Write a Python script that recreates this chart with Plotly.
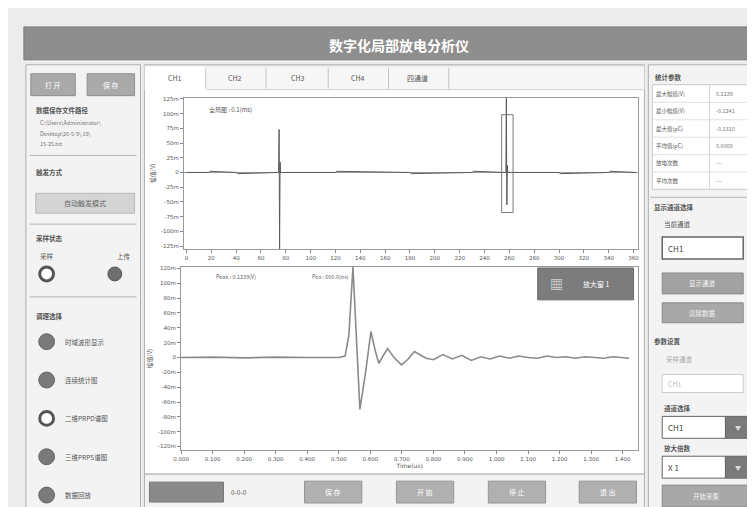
import plotly.graph_objects as go

W, H = 755, 507

# upper trace (全局图): phase 0-360, amplitude in mV
top_t = [0, 18, 19, 40, 41, 74.2, 74.6, 75.0, 75.4, 75.8, 120, 121, 180, 181, 230, 231,
         257.2, 257.6, 258.0, 258.4, 258.8, 300, 301, 340, 341, 362]
top_v = [0, 0, 2, 0, -2, 0, 73, -130, 18, 0, 0, 2, 0, -2, 0, 2,
         0, 126, -55, 12, 0, 0, -2, 0, 2, 0]

# lower trace (zoomed pulse): time in ns, amplitude in mV
wave_t = [0, 100, 200, 300, 400, 500, 520, 532, 545, 556, 567, 585, 602, 615, 627, 640,
          655, 675, 699, 720, 740, 760, 777, 800, 830, 860, 890, 920, 950, 980, 1010,
          1040, 1070, 1100, 1130, 1160, 1190, 1220, 1250, 1280, 1310, 1340, 1370, 1400, 1420]
wave_v = [0, 0.5, -0.5, 0.5, 0, 0, 2, 30, 122, 20, -70, -20, 35, 10, -8, 2,
          12, 0, -10, -2, 8, 3, -1, -3, 4, -2, 3, -4, 1, -2, 2,
          -1, 2, 0, -1, 2, 0, 1, -1, 1, 0, -1, 1, 0, -1]

top_ticks = list(range(0, 361, 20))
top_yticks = [-125, -100, -75, -50, -25, 0, 25, 50, 75, 100, 125]
bot_ticks = list(range(0, 1401, 100))
bot_yticks = [-120, -100, -80, -60, -40, -20, 0, 20, 40, 60, 80, 100, 120]

tabs = ["CH1", "CH2", "CH3", "CH4", "四通道"]
modes = ["时域波形显示", "连续统计图", "二维PRPD谱图", "三维PRPS谱图", "数据回放"]
stat_names = ["最大幅值(V)", "最小幅值(V)", "最大值(pC)", "平均值(pC)", "放电次数", "平均次数"]
stat_vals = ["0.1239", "-0.1241", "-0.1310", "0.0000", "---", "---"]
bottom_btns = ["保 存", "开 始", "停 止", "退 出"]

CJK = "Noto Sans CJK SC"
shapes, annos = [], []


def rect(x0, y0, x1, y1, fill, line=None, lw=1, kind="rect"):
    shapes.append(dict(type=kind, xref="paper", yref="paper",
                       x0=x0 / W, x1=x1 / W, y0=1 - y1 / H, y1=1 - y0 / H,
                       fillcolor=fill, line=dict(color=line or fill, width=lw), layer="below"))


def hline(x0, x1, y, color="#b4b4b4"):
    shapes.append(dict(type="line", xref="paper", yref="paper", x0=x0 / W, x1=x1 / W,
                       y0=1 - y / H, y1=1 - y / H, line=dict(color=color, width=1), layer="below"))


def text(x, y, s, size=7, color="#555555", anchor="left", bold=False):
    if bold:
        s = "<b>" + s + "</b>"
    annos.append(dict(x=x / W, y=1 - y / H, xref="paper", yref="paper", text=s, showarrow=False,
                      xanchor=anchor, yanchor="middle", font=dict(family=CJK, size=size, color=color)))


# background and title bar
rect(0, 0, W, H, "#ececec")
rect(8, 17, 750, 50, "#8e8e8e", "#7a7a7a")
text(388, 35, "数字化局部放电分析仪", 14, "#ffffff", "center", True)

# left panel
rect(10, 55, 126, 502, "#f3f3f3", "#b0b0b0")
rect(15, 64, 60, 86, "#a9a9a9", "#8f8f8f")
rect(72, 64, 120, 86, "#a9a9a9", "#8f8f8f")
text(37, 75, "打 开", 7, "#ffffff", "center")
text(96, 75, "保 存", 7, "#ffffff", "center")
text(18, 100, "数据保存文件路径", 6.5, "#555555", bold=True)
text(22, 113, "C:\\Users\\Administrator\\", 5.5, "#777777")
text(22, 124, "Desktop\\20-5-9\\ 19\\", 5.5, "#777777")
text(22, 135, "15-25.txt", 5.5, "#777777")
hline(14, 122, 146)
text(18, 163, "触发方式", 6.5, "#555555", bold=True)
rect(20, 184, 120, 204, "#d4d4d4", "#b8b8b8")
text(70, 194, "自动触发模式", 7, "#666666", "center")
hline(14, 122, 215)
text(18, 229, "采样状态", 6.5, "#555555", bold=True)
text(22, 247, "采样", 6.5, "#555555")
text(100, 247, "上传", 6.5, "#555555")
rect(24, 258, 38, 272, "#ffffff", "#555555", 3, "circle")
rect(93, 258, 107, 272, "#6f6f6f", "#555555", 1, "circle")
hline(14, 122, 288)
text(18, 307, "调理选择", 6.5, "#555555", bold=True)
for i, m in enumerate(modes):
    cy = 333 + i * 38.5
    if i == 2:
        rect(24, cy - 7, 38, cy + 7, "#ffffff", "#555555", 3, "circle")
    else:
        rect(23, cy - 8, 39, cy + 8, "#7a7a7a", "#666666", 1, "circle")
    text(48, cy, m, 6.5, "#555555")

# main area and tabs
rect(130, 55, 636, 466, "#ffffff", "#b0b0b0")
rect(130, 56, 636, 80, "#f6f6f6", "#d0d0d0")
rect(131, 57, 192, 81, "#ffffff", "#ffffff")
tab_x = [161, 222, 285, 346, 406]
for x, t in zip(tab_x, tabs):
    text(x, 68, t, 7, "#555555", "center")
for x in [192, 253, 316, 377, 438]:
    shapes.append(dict(type="line", xref="paper", yref="paper", x0=x / W, x1=x / W,
                       y0=1 - 79 / H, y1=1 - 58 / H, line=dict(color="#c4c4c4", width=1), layer="below"))

# bottom bar
rect(130, 466, 636, 502, "#f3f3f3", "#b0b0b0")
rect(135, 474, 210, 494, "#8a8a8a", "#777777")
text(216, 484, "0-0-0", 6.5, "#555555")
for x0, b in zip([292, 385, 478, 570], bottom_btns):
    rect(x0, 473, x0 + 58, 495, "#b0b0b0", "#959595")
    text(x0 + 29, 484, b, 7, "#ffffff", "center")

# right panel
rect(640, 55, 750, 502, "#f3f3f3", "#b0b0b0")
text(645, 67, "统计参数", 6.5, "#555555", bold=True)
rect(644, 75, 746, 180, "#ffffff", "#c8c8c8")
for i, (n, v) in enumerate(zip(stat_names, stat_vals)):
    cy = 84 + i * 17.5
    text(646, cy, n, 5.5, "#555555")
    text(706, cy, v, 5.5, "#777777")
    if i < 5:
        hline(644, 746, cy + 8.7, "#e0e0e0")
shapes.append(dict(type="line", xref="paper", yref="paper", x0=702 / W, x1=702 / W,
                   y0=1 - 180 / H, y1=1 - 75 / H, line=dict(color="#d4d4d4", width=1), layer="below"))
hline(642, 748, 188)
text(644, 198, "显示通道选择", 6.5, "#555555", bold=True)
text(654, 215, "当前通道", 6.5, "#555555")
rect(654, 228, 736, 250, "#ffffff", "#666666", 1.5)
text(658, 239, "CH1", 8, "#444444")
rect(654, 264, 736, 285, "#a2a2a2", "#8a8a8a")
text(695, 274.5, "显示通道", 6.5, "#f4f4f4", "center")
rect(654, 294, 736, 314, "#a8a8a8", "#8a8a8a")
text(695, 304, "清除数据", 6.5, "#f4f4f4", "center")
text(644, 332, "参数设置", 6.5, "#555555", bold=True)
text(656, 350, "采样通道", 6.5, "#aaaaaa")
rect(654, 366, 736, 384, "#ffffff", "#cccccc")
text(658, 375, "CH1", 7, "#bbbbbb")
text(654, 400, "通道选择", 6.5, "#555555", bold=True)
rect(654, 408, 718, 430, "#ffffff", "#666666")
rect(718, 408, 744, 430, "#7a7a7a", "#666666")
text(658, 419, "CH1", 8, "#444444")
text(731, 419, "▼", 6, "#dddddd", "center")
text(654, 440, "放大倍数", 6.5, "#555555", bold=True)
rect(654, 448, 718, 470, "#ffffff", "#666666")
rect(718, 448, 744, 470, "#7a7a7a", "#666666")
text(658, 459, "X 1", 8, "#444444")
text(731, 459, "▼", 6, "#dddddd", "center")
rect(654, 477, 744, 499, "#a8a8a8", "#8a8a8a")
text(699, 488, "开始采集", 6.5, "#f4f4f4", "center")

# plot labels
text(193, 100, "全局图 : 0.1(ms)", 6, "#555555")
text(200, 268, "Peak : 0.1239(V)", 5.5, "#666666")
text(298, 268, "Pos : 600.0(ns)", 5.5, "#666666")
rect(528, 259, 625, 291, "#7c7c7c", "#6a6a6a")
text(547, 275, "▦", 13, "#e6e6e6", "center")
text(588, 275, "放大窗 1", 7, "#ffffff", "center")

# selection box on second pulse
shapes.append(dict(type="rect", xref="x", yref="y", x0=253.8, x1=263, y0=-68, y1=98,
                   line=dict(color="#777777", width=1), fillcolor="rgba(0,0,0,0)"))

fig = go.Figure()
fig.add_trace(go.Scatter(x=top_t, y=top_v, mode="lines", line=dict(color="#5a5a5a", width=1),
                         xaxis="x", yaxis="y", showlegend=False))
fig.add_trace(go.Scatter(x=wave_t, y=wave_v, mode="lines", line=dict(color="#8a8a8a", width=1.6),
                         xaxis="x2", yaxis="y2", showlegend=False))

axis_font = dict(family="DejaVu Sans", size=5.5, color="#555555")
common = dict(showgrid=False, zeroline=False, showline=True, linecolor="#999999", linewidth=1,
              ticks="outside", ticklen=3, tickcolor="#888888", tickfont=axis_font, mirror=True)

fig.update_layout(
    width=W, height=H, margin=dict(l=0, r=0, t=0, b=0),
    paper_bgcolor="#ececec", plot_bgcolor="#ffffff",
    shapes=shapes, annotations=annos,
    xaxis=dict(domain=[170 / W, 630 / W], anchor="y", range=[-2, 364],
               tickvals=top_ticks, **common),
    yaxis=dict(domain=[1 - 240 / H, 1 - 88 / H], anchor="x", range=[-130, 127],
               tickvals=top_yticks, ticktext=[f"{v}m" if v else "0" for v in top_yticks],
               title=dict(text="幅值(V)", font=dict(family=CJK, size=6, color="#555555"), standoff=4),
               **common),
    xaxis2=dict(domain=[167 / W, 630 / W], anchor="y2", range=[0, 1450],
                tickvals=bot_ticks, ticktext=[f"{v / 1000:.3f}" for v in bot_ticks],
                title=dict(text="Time(us)", font=dict(family="DejaVu Sans", size=6, color="#555555"), standoff=2),
                **common),
    yaxis2=dict(domain=[1 - 442 / H, 1 - 258 / H], anchor="x2", range=[-125, 122],
                tickvals=bot_yticks, ticktext=[f"{v}m" if v else "0" for v in bot_yticks],
                title=dict(text="幅值(V)", font=dict(family=CJK, size=6, color="#555555"), standoff=4),
                **common),
)
# zero reference line
fig.add_hline(y=0, line=dict(color="#9a9a9a", width=1), xref="x", yref="y", layer="below")

fig.write_html("out.html")
